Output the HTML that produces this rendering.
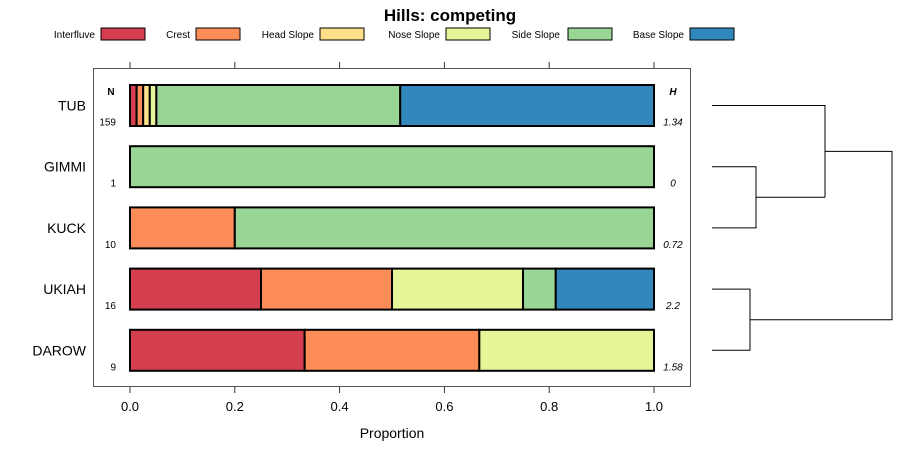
<!DOCTYPE html>
<html><head><meta charset="utf-8"><style>
body{margin:0;background:#fff}
svg text{font-family:"Liberation Sans",sans-serif}
</style></head><body>
<svg id="c" width="900" height="460"></svg>
<script>
const categories=["TUB","GIMMI","KUCK","UKIAH","DAROW"];
const classes=["Interfluve","Crest","Head Slope","Nose Slope","Side Slope","Base Slope"];
const colors=["#D53E4F","#FC8D59","#FEE08B","#E6F598","#99D594","#3288BD"];
const counts=[[2,2,2,2,74,77],[0,0,0,0,1,0],[0,2,0,0,8,0],[4,4,0,4,1,3],[3,3,0,3,0,0]];
const nLabels=["159","1","10","16","9"];
const hLabels=["1.34","0","0.72","2.2","1.58"];
const ticks=[0,0.2,0.4,0.6,0.8,1.0];
const tickLabels=["0.0","0.2","0.4","0.6","0.8","1.0"];
const NS="http://www.w3.org/2000/svg";
const svg=document.getElementById('c');
function mk(t,a,p){const e=document.createElementNS(NS,t);for(const k in a)e.setAttribute(k,a[k]);(p||svg).appendChild(e);return e;}
const x=v=>130+v*524;
const yc=i=>105.5+i*61.2;
const bh=41;
let t=mk('text',{x:450,y:21,'text-anchor':'middle','font-size':17,'font-weight':'bold'});t.textContent="Hills: competing";


// legend
const lx=[[95,101],[190,196],[314,320],[440,446],[560,568],[684,690]];
classes.forEach((c,i)=>{
  const g=mk('g',{});
  
  
  const tx=mk('text',{x:lx[i][0],y:38,'text-anchor':'end','font-size':10},g);tx.textContent=c;
  mk('rect',{x:lx[i][1],y:28,width:44,height:12,fill:colors[i],stroke:'#000','stroke-width':1},g);
});
const panel=mk('rect',{x:93.5,y:68.5,width:597,height:318,fill:'none',stroke:'#555','stroke-width':1});


ticks.forEach((v,i)=>{
  mk('line',{x1:x(v),x2:x(v),y1:62,y2:68,stroke:'#333'});
  mk('line',{x1:x(v),x2:x(v),y1:387,y2:393,stroke:'#333'});
  const l=mk('text',{x:x(v),y:411,'text-anchor':'middle','font-size':13});l.textContent=tickLabels[i];
  
  
});
t=mk('text',{x:392,y:438,'text-anchor':'middle','font-size':14});t.textContent="Proportion";


t=mk('text',{x:111,y:95,'text-anchor':'middle','font-size':10,'font-weight':'bold'});t.textContent="N";
t=mk('text',{x:673,y:95,'text-anchor':'middle','font-size':10,'font-weight':'bold','font-style':'italic'});t.textContent="H";
categories.forEach((cat,i)=>{
  const tot=counts[i].reduce((a,b)=>a+b,0);
  let cum=0;const y0=yc(i)-bh/2;
  counts[i].forEach((n,j)=>{
    if(!n)return;
    const r=mk('rect',{x:x(cum/tot),y:y0,width:x((cum+n)/tot)-x(cum/tot),height:bh,fill:colors[j],stroke:'#000','stroke-width':2});
    
    
    cum+=n;
  });
  const yl=mk('text',{x:86,y:yc(i)+5,'text-anchor':'end','font-size':14});yl.textContent=cat;
  
  
  const nl=mk('text',{x:116,y:yc(i)+20,'text-anchor':'end','font-size':10});nl.textContent=nLabels[i];
  const hl=mk('text',{x:673,y:yc(i)+20,'text-anchor':'middle','font-size':10,'font-style':'italic'});hl.textContent=hLabels[i];
});
// dendrogram
const d=mk('g',{fill:'none',stroke:'#000','stroke-width':1});


const m1=(yc(1)+yc(2))/2,m2=(yc(0)+m1)/2,m3=(yc(3)+yc(4))/2,m4=(m2+m3)/2;
mk('path',{d:`M712 ${yc(1)}H756V${yc(2)}H712 M756 ${m1}H825 M712 ${yc(0)}H825V${m1} M825 ${m2}H892V${m3}H750 M712 ${yc(3)}H750V${yc(4)}H712`},d);
</script>
</body></html>
